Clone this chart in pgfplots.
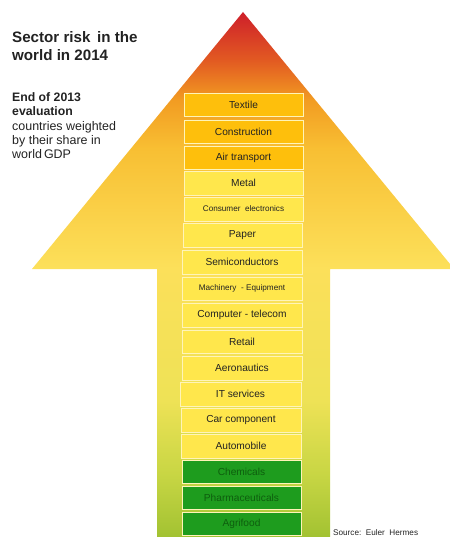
\documentclass[border=0pt]{standalone}
\usepackage{fontspec}
\setmainfont{Liberation Sans}
\usepackage{pgfplots}
\pgfplotsset{compat=1.18}
\definecolor{cA}{HTML}{CE1F2A}
\definecolor{cB}{HTML}{E25A22}
\definecolor{cC}{HTML}{F29C22}
\definecolor{cD}{HTML}{F8BF33}
\definecolor{cE}{HTML}{FCE05A}
\definecolor{cF}{HTML}{EEE256}
\definecolor{cG}{HTML}{C8D644}
\definecolor{cH}{HTML}{A2C232}
\definecolor{orangebox}{HTML}{FEBF0C}
\definecolor{yellowbox}{HTML}{FFE74C}
\definecolor{greenbox}{HTML}{1E9C1E}
\definecolor{greentext}{HTML}{0E5E0E}
\definecolor{boxedge}{HTML}{FFF4B8}
\definecolor{txt}{HTML}{222222}
\pgfdeclareverticalshading{arrowshade}{100bp}{color(0bp)=(cH); color(25bp)=(cH); color(31bp)=(cG); color(38bp)=(cF); color(50.6bp)=(cE); color(62bp)=(cD); color(66.6bp)=(cC); color(70.4bp)=(cB); color(75bp)=(cA); color(100bp)=(cA)}
\begin{document}
\begin{tikzpicture}
\begin{axis}[width=450bp,height=537bp,scale only axis,
  xmin=0,xmax=450,ymin=0,ymax=537,y dir=reverse,hide axis]
% invisible frame so the picture spans the whole axis
\addplot[draw=none,forget plot] coordinates {(0,0)(450,537)};
% arrow
\addplot[draw=none,shading=arrowshade] coordinates {(157,537)(157,269)(32,269)(243,12)(450,264)(450,269)(330,269)(330,537)} -- cycle;
% boxes: top / bottom in picture rows
\pgfplotsset{bx/.style={draw=boxedge,line width=0.8bp}}
\addplot[bx,fill=orangebox] coordinates {(184,93)(303,93)(303,116)(184,116)} -- cycle;
\addplot[bx,fill=orangebox] coordinates {(184,120)(303,120)(303,143)(184,143)} -- cycle;
\addplot[bx,fill=orangebox] coordinates {(184,146)(303,146)(303,169)(184,169)} -- cycle;
\addplot[bx,fill=yellowbox] coordinates {(184,171)(303,171)(303,195)(184,195)} -- cycle;
\addplot[bx,fill=yellowbox] coordinates {(184,197)(303,197)(303,221)(184,221)} -- cycle;
\addplot[bx,fill=yellowbox] coordinates {(183,223)(302,223)(302,247)(183,247)} -- cycle;
\addplot[bx,fill=yellowbox] coordinates {(182,250)(302,250)(302,274)(182,274)} -- cycle;
\addplot[bx,fill=yellowbox] coordinates {(182,277)(302,277)(302,300)(182,300)} -- cycle;
\addplot[bx,fill=yellowbox] coordinates {(182,303)(302,303)(302,327)(182,327)} -- cycle;
\addplot[bx,fill=yellowbox] coordinates {(182,330)(302,330)(302,353)(182,353)} -- cycle;
\addplot[bx,fill=yellowbox] coordinates {(182,356)(302,356)(302,380)(182,380)} -- cycle;
\addplot[bx,fill=yellowbox] coordinates {(180,382)(301,382)(301,406)(180,406)} -- cycle;
\addplot[bx,fill=yellowbox] coordinates {(181,408)(301,408)(301,432)(181,432)} -- cycle;
\addplot[bx,fill=yellowbox] coordinates {(181,434)(301,434)(301,458)(181,458)} -- cycle;
\addplot[bx,fill=greenbox] coordinates {(182,460)(301,460)(301,483)(182,483)} -- cycle;
\addplot[bx,fill=greenbox] coordinates {(182,486)(301,486)(301,509)(182,509)} -- cycle;
\addplot[bx,fill=greenbox] coordinates {(182,512)(301,512)(301,535)(182,535)} -- cycle;
% labels
\tikzset{lb/.style={inner sep=0pt,text=txt,font=\fontsize{10.2}{11}\selectfont},
         lbs/.style={inner sep=0pt,text=txt,font=\fontsize{8.2}{9}\selectfont},
         lbg/.style={inner sep=0pt,text=greentext,font=\fontsize{10.2}{11}\selectfont}}
\node[lb]  at (axis cs:243.5,104.5) {Textile};
\node[lb]  at (axis cs:243.5,131.5) {Construction};
\node[lb]  at (axis cs:243.5,157.5) {Air transport};
\node[lb]  at (axis cs:243.5,183) {Metal};
\node[lbs] at (axis cs:243.5,209) {Consumer\ \ electronics};
\node[lb]  at (axis cs:242.5,235) {Paper};
\node[lb]  at (axis cs:242,262) {Semiconductors};
\node[lbs] at (axis cs:242,288.5) {Machinery\ \ - Equipment};
\node[lb]  at (axis cs:242,315) {Computer - telecom};
\node[lb]  at (axis cs:242,341.5) {Retail};
\node[lb]  at (axis cs:242,368) {Aeronautics};
\node[lb]  at (axis cs:240.5,394) {IT services};
\node[lb]  at (axis cs:241,420) {Car component};
\node[lb]  at (axis cs:241,446) {Automobile};
\node[lbg] at (axis cs:241.5,471.5) {Chemicals};
\node[lbg] at (axis cs:241.5,497.5) {Pharmaceuticals};
\node[lbg] at (axis cs:241.5,523.5) {Agrifood};
% texts
\tikzset{tl/.style={inner sep=0pt,anchor=base west,text=txt,font=\bfseries\fontsize{15.2}{18}\selectfont},
         st/.style={inner sep=0pt,anchor=base west,text=txt,font=\bfseries\fontsize{12.3}{14}\selectfont},
         sn/.style={inner sep=0pt,anchor=base west,text=txt,font=\fontsize{12.5}{14}\selectfont}}
\node[tl] at (axis cs:12,42.7) {Sector risk\, in the};
\node[tl] at (axis cs:12,61) {world in 2014};
\node[st] at (axis cs:12,101.7) {End of 2013};
\node[st] at (axis cs:12,115.7) {evaluation};
\node[sn] at (axis cs:12,130) {countries weighted};
\node[sn] at (axis cs:12,144) {by their share in};
\node[sn] at (axis cs:12,158) {world\,GDP};
\node[inner sep=0pt,anchor=base west,text=txt,font=\fontsize{8.2}{9}\selectfont] at (axis cs:333,535) {Source:\ \ Euler\ \ Hermes};
\end{axis}
\end{tikzpicture}
\end{document}
